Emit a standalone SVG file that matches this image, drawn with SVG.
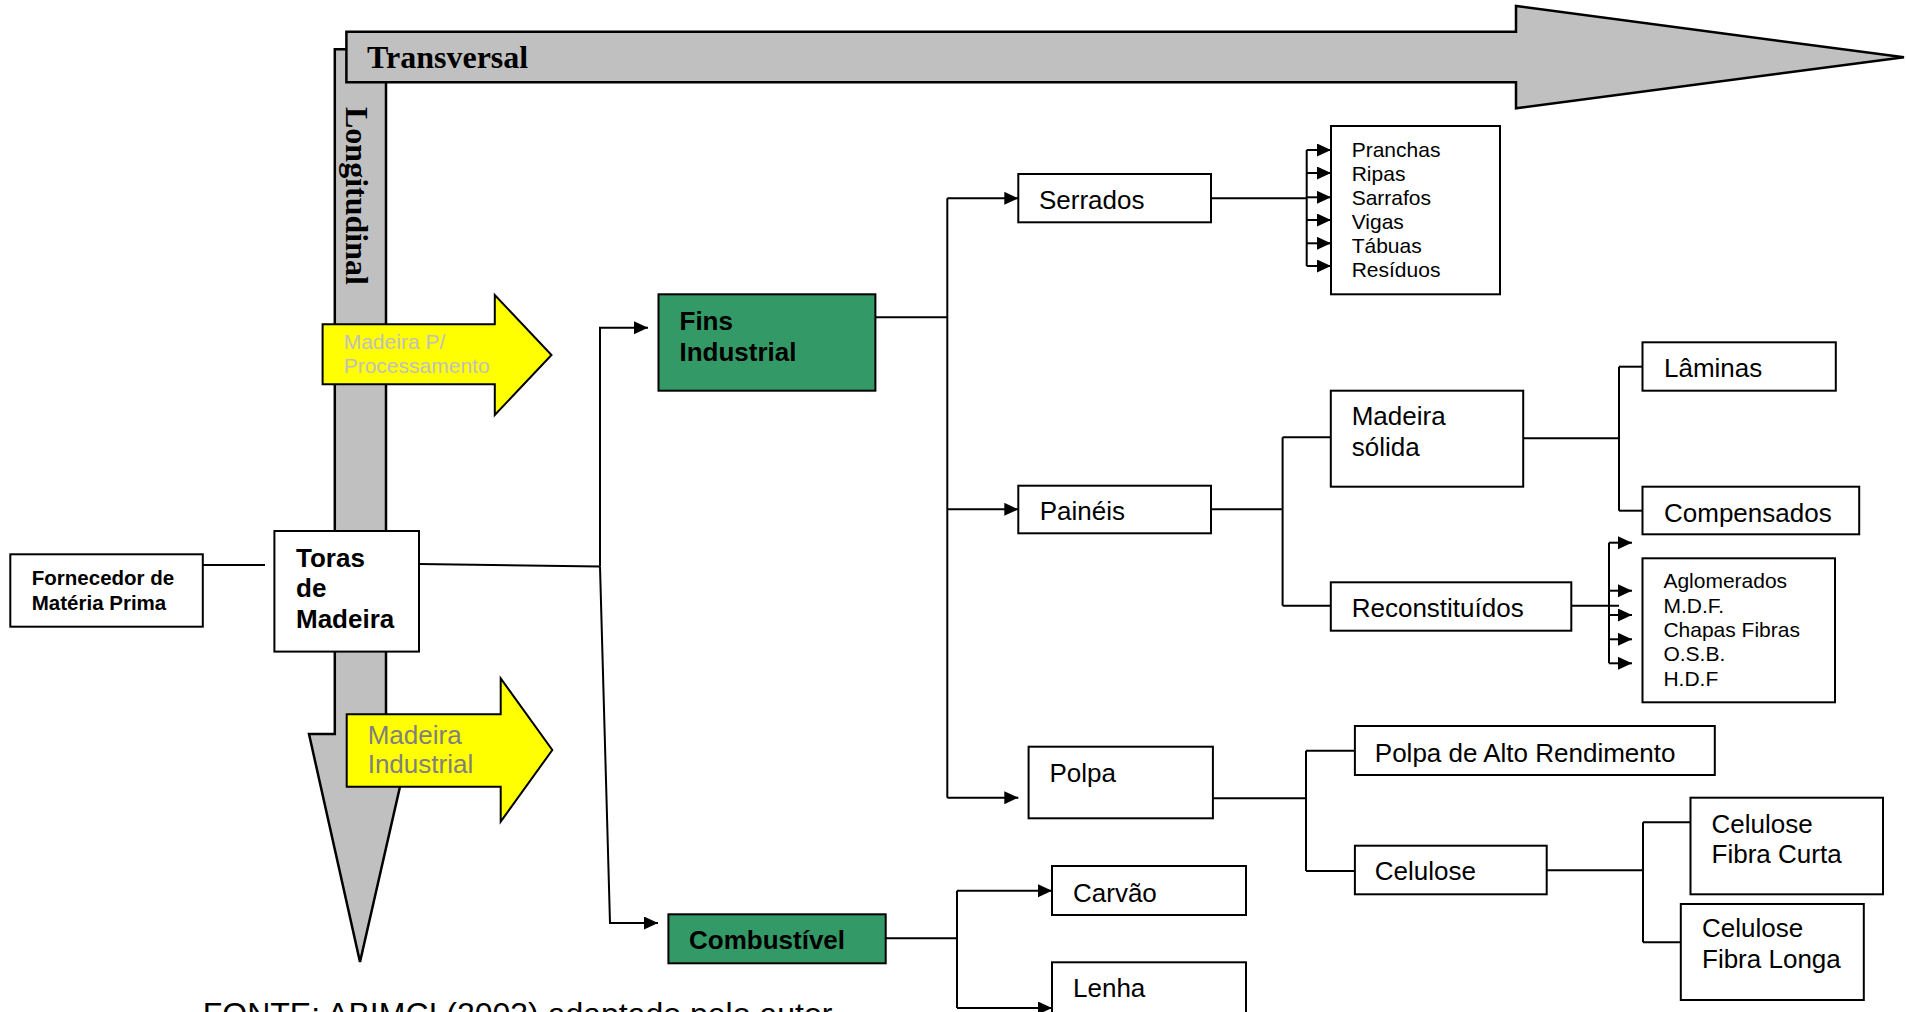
<svg xmlns="http://www.w3.org/2000/svg" width="1906" height="1012" viewBox="0 0 1906 1012">
<defs>
<marker id="ah" markerUnits="userSpaceOnUse" markerWidth="15" markerHeight="14" refX="14" refY="6.5" orient="auto">
<path d="M0,0 L14,6.5 L0,13 z" fill="#000"/>
</marker>
<style>
.box{fill:#fff;stroke:#000;stroke-width:2}
.green{fill:#339966;stroke:#000;stroke-width:2}
.t{font-family:"Liberation Sans",Arial,sans-serif;font-size:26px;fill:#000}
.b{font-family:"Liberation Sans",Arial,sans-serif;font-size:26px;font-weight:bold;fill:#000}
.s{font-family:"Liberation Sans",Arial,sans-serif;font-size:21px;fill:#000}
.sb{font-family:"Liberation Sans",Arial,sans-serif;font-size:20.5px;font-weight:bold;fill:#000}
.ln{fill:none;stroke:#000;stroke-width:2}
.ar{fill:none;stroke:#000;stroke-width:2;marker-end:url(#ah)}
.gray{fill:#c0c0c0;stroke:#000;stroke-width:2.5}
.yel{fill:#ffff00;stroke:#000;stroke-width:2}
.ser{font-family:"Liberation Serif","Times New Roman",serif;font-size:32px;font-weight:bold;fill:#000}
</style>
</defs>
<rect width="1906" height="1012" fill="#fff"/>

<g id="longitudinal">
<polygon class="gray" points="334.8,49.3 386,49.3 386,734 412,734 360,962 309,734 334.8,734"/>
<text class="ser" transform="translate(346,107) rotate(90)">Longitudinal</text>
</g>
<g id="transversal">
<polygon class="gray" points="346.4,31.7 1516,31.7 1516,6 1904,57.3 1516,108.3 1516,82.3 346.4,82.3"/>
<text class="ser" x="367" y="68.3">Transversal</text>
</g>

<g id="madeira-processamento">
<polygon class="yel" points="322.6,324.3 494.8,324.3 494.8,295 551.5,355 494.8,415 494.8,384.3 322.6,384.3"/>
<text class="s" x="343.7" y="349.3" style="fill:#c0c0c0">Madeira P/</text>
<text class="s" x="343.7" y="373.3" style="fill:#c0c0c0">Processamento</text>
</g>

<g id="madeira-industrial">
<polygon class="yel" points="346.7,714.3 500.7,714.3 500.7,678.3 552.3,750 500.7,821.7 500.7,786.7 346.7,786.7"/>
<text class="t" x="367.7" y="744" style="fill:#808080">Madeira</text>
<text class="t" x="367.7" y="773.3" style="fill:#808080">Industrial</text>
</g>

<g id="connectors">
<path class="ln" d="M203,565 H265"/>
<path class="ln" d="M419,564 L600,566.6"/>
<path class="ar" d="M600,566.6 V327.7 H648"/>
<path class="ar" d="M600,566.6 L610,923 H658"/>
<path class="ln" d="M875,317.3 H947.3"/>
<path class="ln" d="M947.3,198.3 V797.7"/>
<path class="ar" d="M947.3,198.3 H1018.3"/>
<path class="ar" d="M947.3,509.3 H1018.3"/>
<path class="ar" d="M947.3,797.7 H1018.3"/>
<path class="ln" d="M1211,198.3 H1306.7"/>
<path class="ln" d="M1306.7,150 V266"/>
<path class="ar" d="M1306.7,150 H1331"/>
<path class="ar" d="M1306.7,173 H1331"/>
<path class="ar" d="M1306.7,197.3 H1331"/>
<path class="ar" d="M1306.7,220 H1331"/>
<path class="ar" d="M1306.7,243.3 H1331"/>
<path class="ar" d="M1306.7,266 H1331"/>
<path class="ln" d="M1211,509.3 H1282.6"/>
<path class="ln" d="M1282.6,437.3 V605.7"/>
<path class="ln" d="M1282.6,437.3 H1330.8"/>
<path class="ln" d="M1282.6,605.7 H1330.8"/>
<path class="ln" d="M1523,438.3 H1619"/>
<path class="ln" d="M1619,366.7 V510.7"/>
<path class="ln" d="M1619,366.7 H1642.5"/>
<path class="ln" d="M1619,510.7 H1642.5"/>
<path class="ln" d="M1571,605.7 H1619"/>
<path class="ln" d="M1609,542.7 V663.3"/>
<path class="ar" d="M1609,542.7 H1632"/>
<path class="ar" d="M1609,590.7 H1632"/>
<path class="ar" d="M1609,615 H1632"/>
<path class="ar" d="M1609,639.3 H1632"/>
<path class="ar" d="M1609,663.3 H1632"/>
<path class="ln" d="M1209,798.3 H1306"/>
<path class="ln" d="M1306,750.7 V871"/>
<path class="ln" d="M1306,750.7 H1355"/>
<path class="ln" d="M1306,871 H1355"/>
<path class="ln" d="M1546.7,870.3 H1643"/>
<path class="ln" d="M1643,822.3 V942.3"/>
<path class="ln" d="M1643,822.3 H1690.5"/>
<path class="ln" d="M1643,942.3 H1690.5"/>
<path class="ln" d="M886,938.3 H957"/>
<path class="ln" d="M957,890.7 V1008"/>
<path class="ar" d="M957,890.7 H1052"/>
<path class="ar" d="M957,1008 H1052"/>
</g>

<g id="fornecedor">
<rect class="box" x="10.3" y="554.3" width="192.5" height="72.4"/>
<text class="sb" x="31.8" y="585">Fornecedor de</text>
<text class="sb" x="31.8" y="610">Matéria Prima</text>
</g>
<g id="toras">
<rect class="box" x="274.4" y="531" width="144.6" height="120.6"/>
<text class="b" x="296" y="566.7">Toras</text>
<text class="b" x="296" y="596.7">de</text>
<text class="b" x="296" y="628.3">Madeira</text>
</g>
<g id="fins-industrial">
<rect class="green" x="658.5" y="294.3" width="216.9" height="96.4"/>
<text class="b" x="679.5" y="330">Fins</text>
<text class="b" x="679.5" y="360.7">Industrial</text>
</g>
<g id="combustivel">
<rect class="green" x="668.4" y="914.3" width="217.3" height="49"/>
<text class="b" x="689" y="949.3">Combustível</text>
</g>
<g id="serrados">
<rect class="box" x="1018.3" y="174" width="192.7" height="48.3"/>
<text class="t" x="1039" y="209.3">Serrados</text>
</g>
<g id="serrados-lista">
<rect class="box" x="1331" y="126" width="169" height="168.3"/>
<text class="s" x="1351.7" y="157">Pranchas</text>
<text class="s" x="1351.7" y="181">Ripas</text>
<text class="s" x="1351.7" y="205">Sarrafos</text>
<text class="s" x="1351.7" y="229">Vigas</text>
<text class="s" x="1351.7" y="253">Tábuas</text>
<text class="s" x="1351.7" y="277">Resíduos</text>
</g>
<g id="paineis">
<rect class="box" x="1018.3" y="485.7" width="192.7" height="47.6"/>
<text class="t" x="1039.7" y="520">Painéis</text>
</g>
<g id="polpa">
<rect class="box" x="1028.6" y="746.7" width="184.3" height="71.6"/>
<text class="t" x="1049.5" y="781.7">Polpa</text>
</g>
<g id="madeira-solida">
<rect class="box" x="1330.8" y="390.7" width="192.4" height="96"/>
<text class="t" x="1351.7" y="425">Madeira</text>
<text class="t" x="1351.7" y="456">sólida</text>
</g>
<g id="reconstituidos">
<rect class="box" x="1330.8" y="582.3" width="240.5" height="48.4"/>
<text class="t" x="1351.7" y="616.7">Reconstituídos</text>
</g>
<g id="laminas">
<rect class="box" x="1642.5" y="342.3" width="193.3" height="48.4"/>
<text class="t" x="1664" y="377.3">Lâminas</text>
</g>
<g id="compensados">
<rect class="box" x="1642.5" y="486.7" width="216.7" height="47.6"/>
<text class="t" x="1664" y="521.7">Compensados</text>
</g>
<g id="reconstituidos-lista">
<rect class="box" x="1642.5" y="558.3" width="192.5" height="144"/>
<text class="s" x="1663.4" y="588.3">Aglomerados</text>
<text class="s" x="1663.4" y="612.6">M.D.F.</text>
<text class="s" x="1663.4" y="636.9">Chapas Fibras</text>
<text class="s" x="1663.4" y="661.2">O.S.B.</text>
<text class="s" x="1663.4" y="685.5">H.D.F</text>
</g>
<g id="polpa-alto-rendimento">
<rect class="box" x="1354.9" y="726" width="359.9" height="49"/>
<text class="t" x="1374.8" y="761.7">Polpa de Alto Rendimento</text>
</g>
<g id="celulose">
<rect class="box" x="1354.9" y="845.7" width="191.8" height="48.6"/>
<text class="t" x="1374.8" y="880">Celulose</text>
</g>
<g id="celulose-fibra-curta">
<rect class="box" x="1690.5" y="797.7" width="192.5" height="96.6"/>
<text class="t" x="1711.6" y="833.3">Celulose</text>
<text class="t" x="1711.6" y="863.3">Fibra Curta</text>
</g>
<g id="celulose-fibra-longa">
<rect class="box" x="1680.8" y="904" width="183" height="96"/>
<text class="t" x="1702" y="937.3">Celulose</text>
<text class="t" x="1702" y="968.3">Fibra Longa</text>
</g>
<g id="carvao">
<rect class="box" x="1052" y="866" width="194" height="49"/>
<text class="t" x="1073" y="901.7">Carvão</text>
</g>
<g id="lenha">
<rect class="box" x="1052" y="962.3" width="194" height="60"/>
<text class="t" x="1073" y="996.7">Lenha</text>
</g>

<text id="fonte" class="t" x="202.7" y="1025" style="font-size:32px">FONTE: ABIMCI (2003) adaptado pelo autor</text>
</svg>
